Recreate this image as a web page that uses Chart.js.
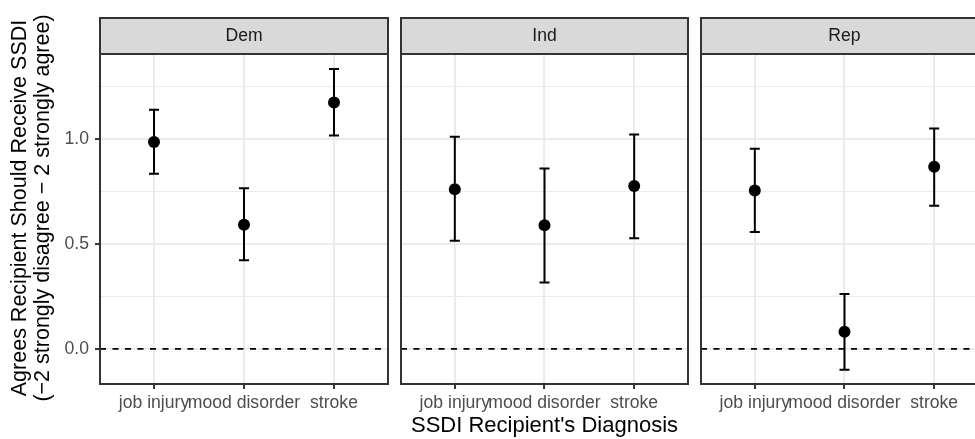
<!DOCTYPE html>
<html>
<head>
<meta charset="utf-8">
<script src="https://cdn.jsdelivr.net/npm/chart.js@4"></script>
<style>
  html, body { margin: 0; padding: 0; background: #fff; overflow: hidden; }
  #wrap { position: relative; width: 975px; height: 439px; overflow: hidden; }
  #wrap canvas { position: absolute; top: 0; }
</style>
</head>
<body>
<div id="wrap">
  <canvas id="dem" width="395" height="439" style="left:0px"></canvas>
  <canvas id="ind" width="300" height="439" style="left:395px"></canvas>
  <canvas id="rep" width="300" height="439" style="left:695px"></canvas>
</div>
<script>
// Data
const diagnoses = ["job injury", "mood disorder", "stroke"];
const parties = ["Dem", "Ind", "Rep"];

const demMean  = [0.987, 0.592, 1.176];
const demLower = [0.835, 0.423, 1.018];
const demUpper = [1.141, 0.766, 1.335];

const indMean  = [0.762, 0.590, 0.777];
const indLower = [0.516, 0.317, 0.528];
const indUpper = [1.012, 0.861, 1.023];

const repMean  = [0.756, 0.081, 0.869];
const repLower = [0.558, -0.100, 0.683];
const repUpper = [0.955, 0.261, 1.052];

const yTicks = [0, 0.25, 0.5, 0.75, 1, 1.25];
const yTickLabels = ["0.0", "", "0.5", "", "1.0", ""];
const refLine = 0;

const yTitle = ["Agrees Recipient Should Receive SSDI", "(\u22122 strongly disagree \u2212 2 strongly agree)"];
const xTitle = "SSDI Recipient's Diagnosis";

const FONT = "'Liberation Sans', Arial, Helvetica, sans-serif";
Chart.defaults.font.family = FONT;

const isMajor = v => Math.abs(v * 2 - Math.round(v * 2)) < 1e-6;

// strip, frame, zero line, error bars
const facetPlugin = {
  id: "facet",
  beforeDatasetsDraw(chart) {
    const {ctx, chartArea: a, scales: {x, y}} = chart;
    const o = chart.options.plugins.facet;
    ctx.save();
    ctx.beginPath();
    ctx.rect(a.left, a.top, a.right - a.left, a.bottom - a.top);
    ctx.clip();
    // dashed reference line
    const y0 = y.getPixelForValue(refLine);
    ctx.strokeStyle = "#000";
    ctx.lineWidth = 1.8;
    ctx.setLineDash([6, 6.5]);
    ctx.beginPath();
    ctx.moveTo(a.left, y0);
    ctx.lineTo(a.right, y0);
    ctx.stroke();
    ctx.setLineDash([]);
    // error bars
    ctx.lineWidth = 2;
    o.lower.forEach((lo, i) => {
      const px = x.getPixelForValue(i + 1);
      const yl = y.getPixelForValue(lo);
      const yu = y.getPixelForValue(o.upper[i]);
      ctx.beginPath();
      ctx.moveTo(px, yl); ctx.lineTo(px, yu);
      ctx.moveTo(px - 5, yl); ctx.lineTo(px + 5, yl);
      ctx.moveTo(px - 5, yu); ctx.lineTo(px + 5, yu);
      ctx.stroke();
    });
    ctx.restore();
  },
  afterDraw(chart) {
    const {ctx, chartArea: a} = chart;
    const o = chart.options.plugins.facet;
    ctx.save();
    // strip
    ctx.fillStyle = "#D9D9D9";
    ctx.fillRect(a.left, 18, a.right - a.left, a.top - 18);
    ctx.strokeStyle = "#333333";
    ctx.lineWidth = 2;
    ctx.strokeRect(a.left, 18, a.right - a.left, a.top - 18);
    ctx.fillStyle = "#1A1A1A";
    ctx.font = "17.6px " + FONT;
    ctx.textAlign = "center";
    ctx.textBaseline = "middle";
    ctx.fillText(o.label, (a.left + a.right) / 2, 36.5);
    // panel border
    ctx.strokeRect(a.left, a.top, a.right - a.left, a.bottom - a.top);
    // y title on the first panel only
    if (o.first) {
      ctx.fillStyle = "#000";
      ctx.font = "21.5px " + FONT;
      ctx.translate(0, 208);
      ctx.rotate(-Math.PI / 2);
      ctx.fillText(yTitle[0], 0, 20);
      ctx.fillText(yTitle[1], 0, 43);
    }
    ctx.restore();
  }
};

function makePanel(id, label, mean, lower, upper, first, showTitle) {
  return new Chart(document.getElementById(id), {
    type: "scatter",
    data: {
      datasets: [{
        data: mean.map((v, i) => ({x: i + 1, y: v})),
        backgroundColor: "#000",
        borderWidth: 0,
        pointRadius: 6,
        pointHoverRadius: 6
      }]
    },
    options: {
      responsive: false,
      animation: false,
      devicePixelRatio: 1,
      layout: {padding: {top: 54, right: 7, bottom: 0, left: first ? 0 : 5}},
      plugins: {
        legend: {display: false},
        tooltip: {enabled: false},
        facet: {label, lower, upper, first}
      },
      scales: {
        x: {
          type: "linear",
          min: 0.4,
          max: 3.6,
          afterBuildTicks: s => { s.ticks = diagnoses.map((d, i) => ({value: i + 1})); },
          afterFit: s => { s.height = 55; },
          ticks: {
            autoSkip: false,
            maxRotation: 0,
            minRotation: 0,
            padding: 4,
            color: "#4D4D4D",
            font: {size: 17.6},
            callback: v => diagnoses[Math.round(v) - 1]
          },
          grid: {
            color: "#EBEBEB",
            lineWidth: 2.1,
            drawTicks: true,
            tickLength: 5,
            tickColor: "#333333",
            tickWidth: 2
          },
          border: {display: false},
          title: {
            display: showTitle,
            text: xTitle,
            color: "#000",
            font: {size: 22, lineHeight: 1},
            padding: {top: 0, bottom: 2}
          }
        },
        y: {
          type: "linear",
          min: -0.168,
          max: 1.407,
          afterBuildTicks: s => { s.ticks = yTicks.map(v => ({value: v})); },
          afterFit: s => { s.width = first ? 100 : 0; },
          ticks: {
            display: first,
            padding: 6,
            color: "#4D4D4D",
            font: {size: 17.6},
            callback: (v, i) => yTickLabels[i]
          },
          grid: {
            color: "#EBEBEB",
            lineWidth: c => isMajor(c.tick.value) ? 2.1 : 1.07,
            drawTicks: first,
            tickLength: 5,
            tickColor: c => isMajor(c.tick.value) ? "#333333" : "rgba(0,0,0,0)",
            tickWidth: 2
          },
          border: {display: false}
        }
      }
    },
    plugins: [facetPlugin]
  });
}

makePanel("dem", parties[0], demMean, demLower, demUpper, true, false);
makePanel("ind", parties[1], indMean, indLower, indUpper, false, true);
makePanel("rep", parties[2], repMean, repLower, repUpper, false, false);
</script>
</body>
</html>
